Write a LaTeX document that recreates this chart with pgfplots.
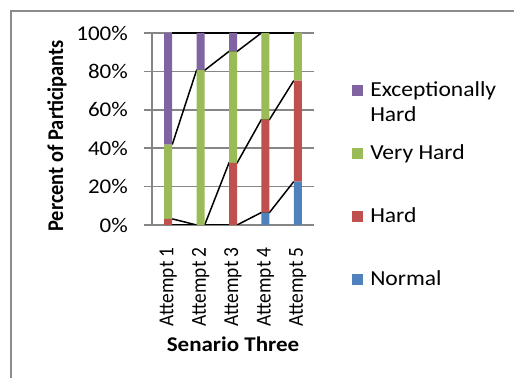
\documentclass[border=0pt]{standalone}
\usepackage{pgfplots}
\pgfplotsset{compat=1.18}
\usepackage{pgfplotstable}
\usepackage{fontspec}
\setmainfont[FakeStretch=1.1]{Carlito}
\newfontfamily\rotfont{Carlito}

\definecolor{cNormal}{HTML}{4F81BD}
\definecolor{cHard}{HTML}{C0504D}
\definecolor{cVery}{HTML}{9BBB59}
\definecolor{cExc}{HTML}{8064A2}
\definecolor{gridgray}{HTML}{868686}
\definecolor{framegray}{HTML}{8C8C8C}

% share of participants (%) per rating, Scenario Three
\pgfplotstableread{
x Normal Hard VeryHard ExcHard
1 0    3.2  38.7 58.1
2 0    0    80.6 19.4
3 0    32.3 58.1 9.6
4 6.5  48.4 45.1 0
5 22.6 52.6 24.8 0
}\ratings

% rotated labels: slightly widened across the baseline
\newcommand\rlab[1]{\scalebox{1}[1.1]{#1}}

\pgfplotsset{
  common/.style={scale only axis, width=162bp, height=192bp,
    xmin=0.5, xmax=5.5, ymin=0, ymax=100,
    at={(152bp,153bp)}, anchor=south west},
  sq legend/.style={legend image code/.code={%
    \fill[##1, draw=none] (0bp,0.5bp) rectangle (11bp,11.5bp);
    \path (18bp,0bp);}},
  serline/.style={black, line width=1.5bp, mark=none},
}

\begin{document}
\begin{tikzpicture}
\useasboundingbox (0,0) rectangle (514bp,378bp);
\clip (0,0) rectangle (514bp,378bp);
\draw[framegray, line width=1.6bp] (11bp,-5bp) -- (11bp,367bp) -- (520bp,367bp);

% grid, ticks, titles and series lines
\begin{axis}[common,
  axis lines=left,
  axis line style={-, draw=gridgray, line width=1.5bp},
  ymajorgrids,
  grid style={draw=gridgray, line width=1.5bp},
  ytick={0,20,40,60,80,100},
  yticklabels={0\%,20\%,40\%,60\%,80\%,100\%},
  ytick style={draw=gridgray, line width=1.5bp},
  major tick length=8bp, tick align=outside,
  xtick={1,2,3,4,5},
  xticklabels={\rlab{Attempt 1},\rlab{Attempt 2},\rlab{Attempt 3},\rlab{Attempt 4},\rlab{Attempt 5}},
  xtick style={draw=none},
  tick label style={inner sep=0pt},
  yticklabel style={anchor=east, xshift=-16bp, font=\fontsize{21}{24}\selectfont},
  xticklabel style={rotate=90, anchor=east, font=\rotfont\fontsize{19.5}{24}\selectfont},
  xticklabel shift=14bp,
  ylabel={\rlab{Percent of Participants}},
  ylabel style={at={(rel axis cs:-0.587,0.464)}, anchor=center,
    font=\rotfont\bfseries\fontsize{20.5}{24}\selectfont},
  xlabel={Senario Three},
  xlabel style={at={(rel axis cs:0.5,-0.661)}, anchor=base,
    font=\bfseries\fontsize{21}{25}\selectfont},
]
\addplot[serline] coordinates {(1.125,0) (1.875,0) (2.125,0) (2.875,0) (3.125,0) (3.875,6.5) (4.125,6.5) (4.875,22.6)};
\addplot[serline] coordinates {(1.125,3.2) (1.875,0) (2.125,0) (2.875,32.3) (3.125,32.3) (3.875,54.9) (4.125,54.9) (4.875,75.2)};
\addplot[serline] coordinates {(1.125,41.9) (1.875,80.6) (2.125,80.6) (2.875,90.4) (3.125,90.4) (3.875,100) (4.125,100) (4.875,100)};
\addplot[serline] coordinates {(1.125,100) (1.875,100) (2.125,100) (2.875,100) (3.125,100) (3.875,100) (4.125,100) (4.875,100)};
\end{axis}

% stacked bars and legend
\begin{axis}[common, hide axis,
  ybar stacked, bar width=8bp,
  reverse legend,
  legend style={draw=none, fill=none,
    at={(rel axis cs:1.235,0.755)}, anchor=north west,
    font=\fontsize{21.5}{25}\selectfont,
    row sep=19bp, column sep=0pt, inner sep=0pt,
    cells={anchor=base west},
    nodes={inner sep=0pt, text height=16bp, text depth=28bp}},
]
\addplot[fill=cNormal, draw=none, sq legend] table[x=x, y=Normal] {\ratings};
\addlegendentry{Normal}
\addplot[fill=cHard, draw=none, sq legend] table[x=x, y=Hard] {\ratings};
\addlegendentry{Hard}
\addplot[fill=cVery, draw=none, sq legend] table[x=x, y=VeryHard] {\ratings};
\addlegendentry{Very Hard}
\addplot[fill=cExc, draw=none, sq legend] table[x=x, y=ExcHard] {\ratings};
\addlegendentry{\vtop{\hbox{Exceptionally}\hbox{Hard}}}
\end{axis}
\end{tikzpicture}
\end{document}
